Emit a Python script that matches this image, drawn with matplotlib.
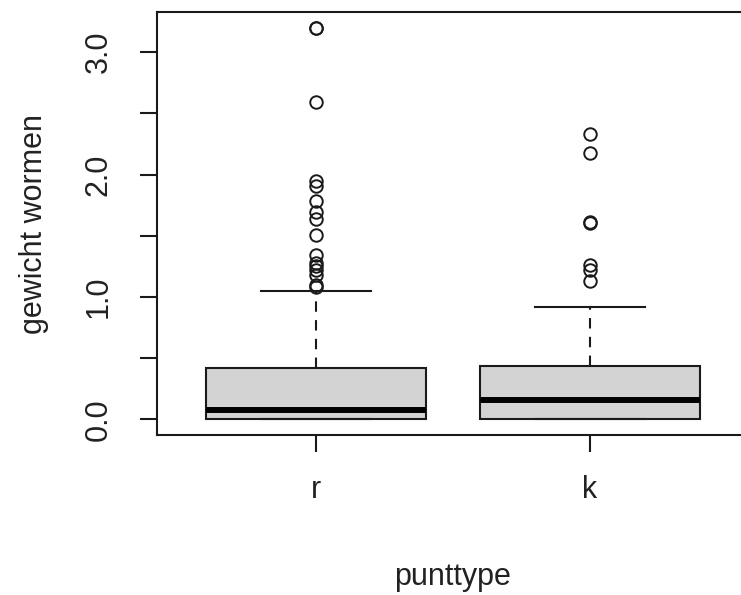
import matplotlib
matplotlib.use("Agg")
import matplotlib.pyplot as plt

plt.rcParams["font.family"] = ["Liberation Sans", "DejaVu Sans"]

# groups and box statistics
groups = ["r", "k"]
q1 = [0.0, 0.0]
medians = [0.074, 0.155]
q3 = [0.42, 0.435]
whisk_lo = [0.0, 0.0]
whisk_hi = [1.05, 0.92]
fliers_r = [3.20, 3.20, 2.59, 1.95, 1.91, 1.78, 1.69, 1.64, 1.51,
            1.34, 1.28, 1.25, 1.22, 1.18, 1.10, 1.08]
fliers_k = [2.33, 2.18, 1.61, 1.60, 1.26, 1.22, 1.13]
fliers = [fliers_r, fliers_k]

y_ticks = [0.0, 0.5, 1.0, 1.5, 2.0, 2.5, 3.0]
y_ticklabels = ["0.0", "", "1.0", "", "2.0", "", "3.0"]

W, H = 741, 595
fig = plt.figure(figsize=(W / 100, H / 100), dpi=100)
ax = fig.add_axes([157 / W, 1 - 435 / H, (749 - 157) / W, (435 - 12) / H])

stats = []
for i, g in enumerate(groups):
    stats.append(dict(label=g, med=medians[i], q1=q1[i], q3=q3[i],
                      whislo=whisk_lo[i], whishi=whisk_hi[i], fliers=fliers[i]))

lw = 1.5
ax.bxp(stats, positions=[1, 2], widths=0.8, capwidths=0.4, patch_artist=True,
       boxprops=dict(facecolor="#D3D3D3", edgecolor="#1a1a1a", linewidth=lw),
       medianprops=dict(color="black", linewidth=4.3, solid_capstyle="butt"),
       whiskerprops=dict(color="#1a1a1a", linewidth=lw, linestyle=(0, (5, 4))),
       capprops=dict(color="#1a1a1a", linewidth=lw),
       flierprops=dict(marker="o", markersize=9, markerfacecolor="none",
                       markeredgecolor="#1a1a1a", markeredgewidth=1.4))

ax.set_xlim(0.42, 2.58)
ax.set_ylim(-0.128, 3.328)
ax.set_xticks([1, 2])
ax.set_xticklabels(groups)
ax.set_yticks(y_ticks)
ax.set_yticklabels(y_ticklabels, rotation=90, va="center")

for s in ax.spines.values():
    s.set_linewidth(1.5)
    s.set_color("#1a1a1a")

ax.tick_params(axis="both", direction="out", length=12, width=1.5,
               color="#1a1a1a", labelsize=22, labelcolor="#222222")
ax.tick_params(axis="y", pad=19)
ax.tick_params(axis="x", pad=17)

ax.set_xlabel("punttype", fontsize=22, color="#222222", labelpad=41)
ax.set_ylabel("gewicht wormen", fontsize=22, color="#222222", labelpad=25)

fig.savefig("out.png", dpi=100)
